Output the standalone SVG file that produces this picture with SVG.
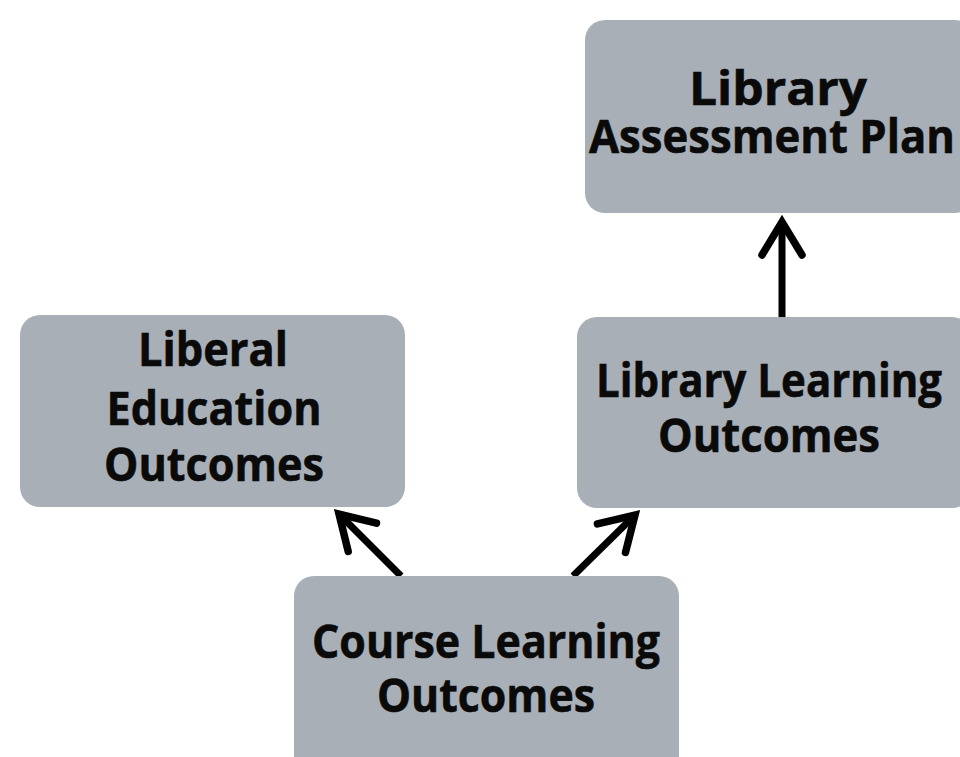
<svg xmlns="http://www.w3.org/2000/svg" width="960" height="757" viewBox="0 0 960 757">
  <style>
    .box { fill: #a8afb7; }
    .lbl { font-family: "Open Sans", "Liberation Sans", sans-serif; font-weight: bold; font-size: 46px; fill: #0a0a0a; stroke: #0a0a0a; stroke-width: 0.6; text-anchor: middle; }
    .edge { stroke: #000; stroke-width: 7; fill: none; stroke-linecap: butt; }
  </style>
  <defs>
    <marker id="chev" markerUnits="userSpaceOnUse" viewBox="-45 -28 52 56" markerWidth="52" markerHeight="56" refX="0" refY="0" orient="auto">
      <path d="M -33 -20 L 0 0 L -33 20" fill="none" stroke="#000" stroke-width="7.5" stroke-linecap="round" stroke-linejoin="miter"/>
    </marker>
  </defs>
  <rect width="960" height="757" fill="#ffffff"/>

  <g id="connectors">
    <line class="edge" x1="782" y1="318" x2="782" y2="222" marker-end="url(#chev)"/>
    <line class="edge" x1="401" y1="576" x2="339" y2="514" marker-end="url(#chev)"/>
    <line class="edge" x1="573" y1="576" x2="635" y2="515" marker-end="url(#chev)"/>
  </g>

  <g id="node-plan">
    <rect class="box" x="585" y="20" width="390" height="193" rx="20"/>
    <text class="lbl" x="778" y="105" textLength="178" lengthAdjust="spacingAndGlyphs">Library</text>
    <text class="lbl" x="772" y="153" textLength="366" lengthAdjust="spacingAndGlyphs">Assessment Plan</text>
  </g>

  <g id="node-liberal">
    <rect class="box" x="20" y="315" width="385" height="192" rx="20"/>
    <text class="lbl" x="213" y="366" textLength="150" lengthAdjust="spacingAndGlyphs">Liberal</text>
    <text class="lbl" x="214" y="425" textLength="215" lengthAdjust="spacingAndGlyphs">Education</text>
    <text class="lbl" x="214" y="481" textLength="220" lengthAdjust="spacingAndGlyphs">Outcomes</text>
  </g>

  <g id="node-library-learning">
    <rect class="box" x="577" y="317" width="395" height="191" rx="20"/>
    <text class="lbl" x="769" y="397" textLength="346" lengthAdjust="spacingAndGlyphs">Library Learning</text>
    <text class="lbl" x="769" y="452" textLength="222" lengthAdjust="spacingAndGlyphs">Outcomes</text>
  </g>

  <g id="node-course">
    <rect class="box" x="294" y="576" width="385" height="200" rx="20"/>
    <text class="lbl" x="486" y="658" textLength="348" lengthAdjust="spacingAndGlyphs">Course Learning</text>
    <text class="lbl" x="486" y="712" textLength="218" lengthAdjust="spacingAndGlyphs">Outcomes</text>
  </g>
</svg>
